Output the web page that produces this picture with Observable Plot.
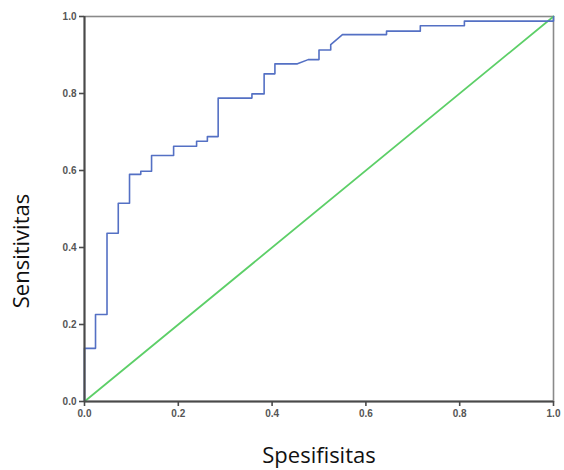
<!DOCTYPE html>
<html><head><meta charset="utf-8">
<script src="https://cdn.jsdelivr.net/npm/d3@7"></script>
<script src="https://cdn.jsdelivr.net/npm/@observablehq/plot@0.6"></script>
<style>body{margin:0;background:#fff;} svg{display:block;}</style>
</head><body><div id="chart"></div>
<script>
const spesifisitas = [0,0,0.0235,0.0235,0.048,0.048,0.072,0.072,0.096,0.096,0.12,0.12,0.143,0.143,0.19,0.19,0.239,0.239,0.262,0.262,0.285,0.285,0.357,0.357,0.383,0.383,0.406,0.406,0.454,0.477,0.50,0.50,0.525,0.525,0.55,0.644,0.644,0.716,0.716,0.81,0.81,1,1];
const sensitivitas = [0,0.138,0.138,0.226,0.226,0.437,0.437,0.515,0.515,0.590,0.590,0.598,0.598,0.639,0.639,0.663,0.663,0.676,0.676,0.688,0.688,0.788,0.788,0.799,0.799,0.851,0.851,0.877,0.877,0.888,0.888,0.913,0.913,0.927,0.953,0.953,0.962,0.962,0.976,0.976,0.988,0.988,1];
const diagX = [0,1];
const diagY = [0,1];
const tickValues = [0,0.2,0.4,0.6,0.8,1.0];
const xTitle = "Spesifisitas";
const yTitle = "Sensitivitas";

const roc = spesifisitas.map((v,i)=>({x:v,y:sensitivitas[i]}));
const diag = diagX.map((v,i)=>({x:v,y:diagY[i]}));

const chart = Plot.plot({
  width:564, height:470,
  marginLeft:84, marginRight:11, marginTop:16, marginBottom:69,
  style:{fontFamily:"'Liberation Sans', Arial, sans-serif", background:"#fff", overflow:"visible"},
  x:{domain:[0,1]}, y:{domain:[0,1]},
  marks:[
    Plot.frame({stroke:"#8a8a8a", strokeWidth:1.6}),
    Plot.line(diag,{x:"x",y:"y",stroke:"#5dcf68",strokeWidth:1.8}),
    Plot.line(roc,{x:"x",y:"y",stroke:"#5470c4",strokeWidth:1.6}),
    Plot.ruleX([0],{stroke:"#4a4a4a",strokeWidth:2}),
    Plot.ruleY([0],{stroke:"#4a4a4a",strokeWidth:2}),
    Plot.axisX({ticks:tickValues, tickFormat:d3.format(".1f"), tickSize:5, tickPadding:3, label:null, fontSize:10, fontWeight:"bold", color:"#555", stroke:"#4a4a4a", strokeWidth:1.6}),
    Plot.axisY({ticks:tickValues, tickFormat:d3.format(".1f"), tickSize:5, tickPadding:3, label:null, fontSize:10, fontWeight:"bold", color:"#555", stroke:"#4a4a4a", strokeWidth:1.6}),
    Plot.text([xTitle],{frameAnchor:"bottom", dy:61, fontSize:22, fill:"#111", fontFamily:"'Open Sans', sans-serif"}),
    Plot.text([yTitle],{frameAnchor:"left", textAnchor:"middle", dx:-63, dy:42, rotate:-90, fontSize:22, fill:"#111", fontFamily:"'Open Sans', sans-serif"})
  ]
});
document.getElementById("chart").appendChild(chart);
</script></body></html>
